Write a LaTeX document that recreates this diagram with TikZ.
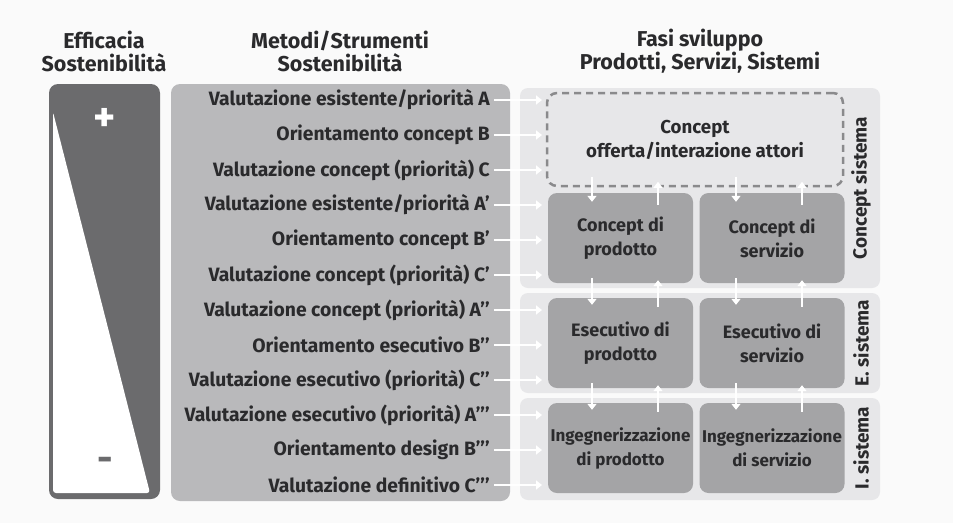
\documentclass[tikz,border=0pt]{standalone}
\usepackage{fontspec}
\setmainfont{Fira Sans}
\usetikzlibrary{arrows.meta}
\usetikzlibrary{positioning}

\definecolor{pagebg}{HTML}{FAFAFA}
\definecolor{darkbar}{HTML}{6B6B6D}
\definecolor{methodbg}{HTML}{B9B9BB}
\definecolor{phasebg}{HTML}{E7E7E9}
\definecolor{stepbg}{HTML}{A4A4A6}
\definecolor{dashgrey}{HTML}{8A8A8C}
\definecolor{ink}{HTML}{2A2A2C}

\tikzset{
  header/.style={font=\bfseries\fontsize{21.5}{23}\selectfont, text=ink, align=center},
  method/.style={font=\bfseries\fontsize{19.3}{18}\selectfont, text=ink, anchor=east, inner sep=0pt},
  stepbox/.style={fill=stepbg, rounded corners=9pt, minimum width=145pt, minimum height=90pt,
    align=center, text=ink, font=\bfseries\fontsize{18}{24}\selectfont},
  phase/.style={fill=phasebg, rounded corners=8pt},
  phaselabel/.style={rotate=90, text=ink, font=\bfseries\fontsize{19}{18}\selectfont},
  flow/.style={draw=white, line width=2.5pt, -{Triangle[length=6pt,width=9pt]}},
}

\begin{document}
\begin{tikzpicture}[x=1pt, y=-1pt]
    \fill[pagebg] (0,0) rectangle (953,523);
    \useasboundingbox (0,0) rectangle (953,523);

    % headers
    \node[header] (hEff) at (104,51) {Efficacia\\Sostenibilità};
    \node[header] (hMet) at (340,51) {Metodi/Strumenti\\Sostenibilità};
    \node[header] (hFas) at (700,51) {Fasi sviluppo\\Prodotti, Servizi, Sistemi};

    % efficacia bar
    \fill[darkbar, rounded corners=9pt] (49,84) rectangle (160,499);
    \fill[white, rounded corners=3pt] (53,112) -- (150,493) -- (53,493) -- cycle;
    \node[text=white, font=\bfseries\fontsize{42}{42}\selectfont] (plus) at (105,120) {+};
    \node[text=darkbar, font=\bfseries\fontsize{38}{38}\selectfont] (minus) at (105,464) {-};

    % phases
    \fill[methodbg, rounded corners=9pt] (171,84) rectangle (510,501);
    \fill[phase] (520,88) rectangle (880,288);
    \fill[phase] (520,293) rectangle (880,393);
    \fill[phase] (520,398) rectangle (880,500);
    \node[phaselabel] (lC) at (861,188) {Concept sistema};
    \node[phaselabel] (lE) at (861,343) {E. sistema};
    \node[phaselabel] (lI) at (861,448) {I. sistema};

    \node[draw=dashgrey, fill=phasebg, line width=2.5pt, dash pattern=on 7pt off 5pt,
      rounded corners=10pt, minimum width=296pt, minimum height=93pt, align=center,
      text=ink, font=\bfseries\fontsize{18.7}{24}\selectfont] (offer) at (695,139.5)
      {Concept\\offerta/interazione attori};

    \node[stepbox] (pc1) at (620.5,238) {Concept di\\prodotto};
    \node[stepbox] (pc2) at (772,238) {Concept di\\servizio};
    \node[stepbox] (pe1) at (620.5,343) {Esecutivo di\\prodotto};
    \node[stepbox] (pe2) at (772,343) {Esecutivo di\\servizio};
    \node[stepbox, inner xsep=0pt, font=\bfseries\fontsize{17}{24}\selectfont] (pi1) at (620.5,448) {Ingegnerizzazione\\di prodotto};
    \node[stepbox, inner xsep=0pt, font=\bfseries\fontsize{17}{24}\selectfont] (pi2) at (772,448) {Ingegnerizzazione\\di servizio};

    % methods
    \foreach \txt [count=\i] in {Valutazione esistente/priorità A, Orientamento concept B,
      Valutazione concept (priorità) C, Valutazione esistente/priorità A’,
      Orientamento concept B’, Valutazione concept (priorità) C’,
      Valutazione concept (priorità) A’’, Orientamento esecutivo B’’,
      Valutazione esecutivo (priorità) C’’, Valutazione esecutivo (priorità) A’’’,
      Orientamento design B’’’, Valutazione definitivo C’’’}
      \node[method] (m\i) at (490,65+35*\i) {\txt};

    \coordinate (tip) at (542,0);
    \foreach \i in {1,...,12}
      \draw[flow] ([xshift=4pt]m\i.east) -- (m\i.east -| tip);

    % vertical flows
    \foreach \b/\dn/\up in {pc1/-28.5/37.5, pc2/-36/30} {
      \draw[flow] ([xshift=\dn pt, yshift=16pt]\b.north) -- ([xshift=\dn pt, yshift=-9pt]\b.north);
      \draw[flow] ([xshift=\up pt, yshift=-12pt]\b.north) -- ([xshift=\up pt, yshift=11pt]\b.north);
    }
    \foreach \a/\b/\dn/\up in {pc1/pe1/-28.5/37.5, pe1/pi1/-28.5/37.5, pc2/pe2/-36/30, pe2/pi2/-36/30} {
      \draw[flow] ([xshift=\dn pt, yshift=5pt]\a.south) -- ([xshift=\dn pt, yshift=-7pt]\b.north);
      \draw[flow] ([xshift=\up pt, yshift=-9pt]\b.north) -- ([xshift=\up pt, yshift=3pt]\a.south);
    }
\end{tikzpicture}
\end{document}
